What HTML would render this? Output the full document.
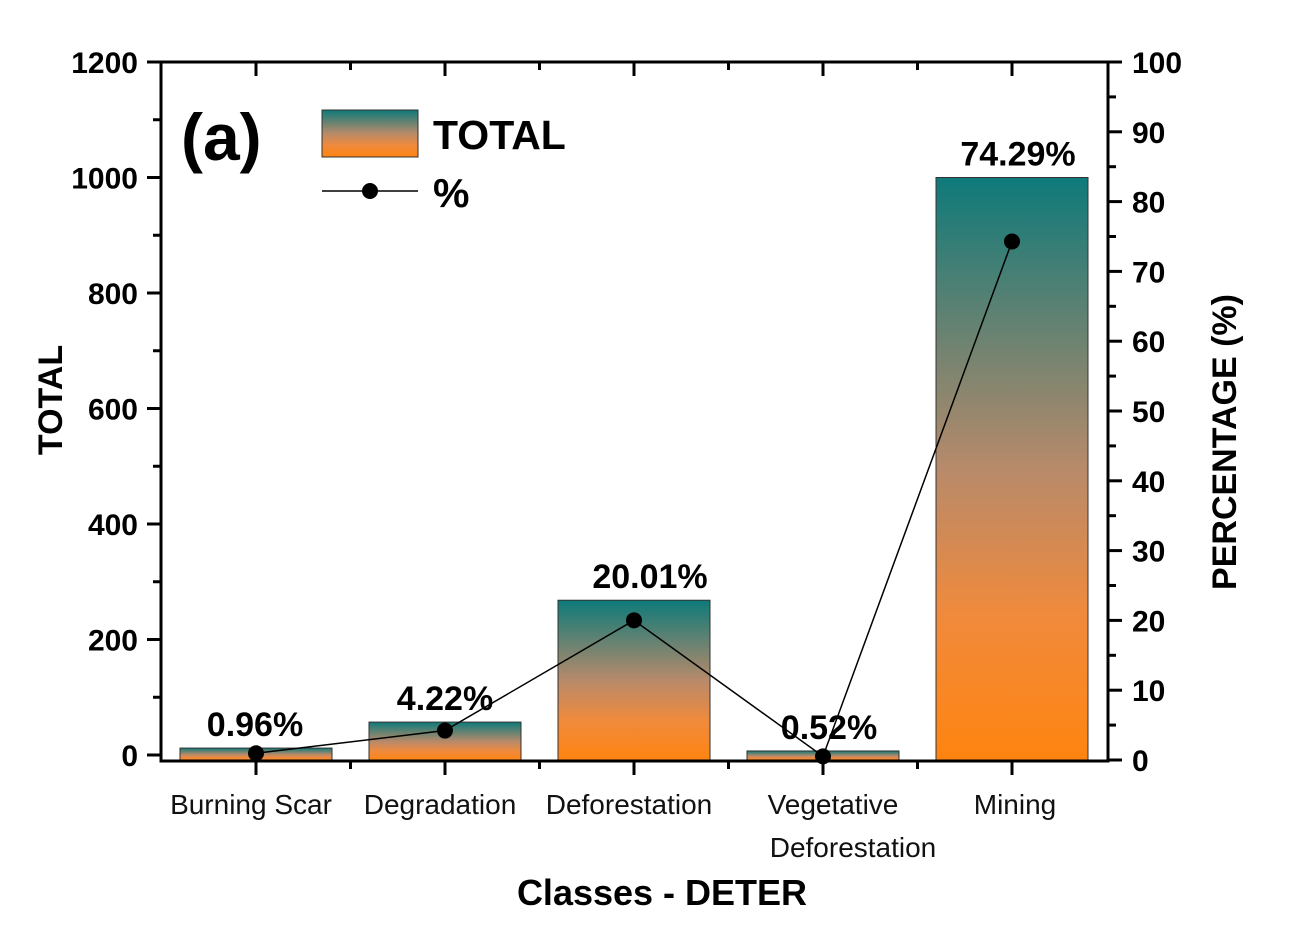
<!DOCTYPE html>
<html><head><meta charset="utf-8"><style>
body{margin:0;background:#fff;}
svg text{font-family:"Liberation Sans",sans-serif;}
</style></head><body>
<svg id="chart" width="1301" height="947" xmlns="http://www.w3.org/2000/svg">
<defs><linearGradient id="g" x1="0" y1="0" x2="0" y2="1">
<stop offset="0" stop-color="#0e7a7a"/><stop offset="0.5" stop-color="#b88a6a"/><stop offset="0.75" stop-color="#f08a3c"/><stop offset="1" stop-color="#ff8410"/></linearGradient></defs>
<g id="plot"></g>
</svg>
<script>
const categories=["Burning Scar","Degradation","Deforestation","Vegetative|Deforestation","Mining"];
const totals=[12,57,268,7,1000];
const percents=[0.96,4.22,20.01,0.52,74.29];
const pctLabels=["0.96%","4.22%","20.01%","0.52%","74.29%"];
const leftTicks=[0,200,400,600,800,1000,1200];
const rightTicks=[0,10,20,30,40,50,60,70,80,90,100];
const NS="http://www.w3.org/2000/svg";
const g=document.getElementById('plot');
const L=161,R=1108,T=62,B=761;
const yL=v=>755-v*(755-62)/1200;
const yR=v=>760-v*(760-62)/100;
const xC=i=>256+i*189;
function mk(t,a,txt){const e=document.createElementNS(NS,t);for(const k in a)e.setAttribute(k,a[k]);if(txt!==undefined)e.textContent=txt;g.appendChild(e);return e;}
totals.forEach((v,i)=>{
 const e=mk('rect',{x:xC(i)-76,y:yL(v),width:152,height:B-yL(v),fill:'url(#g)',stroke:'#333','stroke-width':1});
 
 
 const t=mk('text',{x:xC(i)+(i==0?-1:i==1?0:i==2?16:i==3?6:6),y:yL(v)-12,'font-size':34,'font-weight':'bold','text-anchor':'middle'},pctLabels[i]);
 
 
});
const pts=percents.map((p,i)=>xC(i)+','+yR(p)).join(' ');
const pl=mk('polyline',{points:pts,fill:'none',stroke:'#000','stroke-width':1.5});


percents.forEach((p,i)=>{const c=mk('circle',{cx:xC(i),cy:yR(p),r:8,fill:'#000'});
 
 });
const fr=mk('rect',{x:L,y:T,width:R-L,height:B-T,fill:'none',stroke:'#000','stroke-width':3});


leftTicks.forEach(v=>{mk('line',{x1:L,x2:147,y1:yL(v),y2:yL(v),stroke:'#000','stroke-width':3});
 if(v<1200)mk('line',{x1:L,x2:153,y1:yL(v+100),y2:yL(v+100),stroke:'#000','stroke-width':3});
 const t=mk('text',{x:138,y:yL(v)+11,'font-size':30,'font-weight':'bold','text-anchor':'end'},v);
 
 });
rightTicks.forEach(v=>{mk('line',{x1:R,x2:1122,y1:yR(v),y2:yR(v),stroke:'#000','stroke-width':3});
 if(v<100)mk('line',{x1:R,x2:1116,y1:yR(v+5),y2:yR(v+5),stroke:'#000','stroke-width':3});
 const t=mk('text',{x:1132,y:yR(v)+11,'font-size':30,'font-weight':'bold'},v);
 
 });
categories.forEach((c,i)=>{const x=xC(i);
 mk('line',{x1:x,x2:x,y1:B,y2:B+14,stroke:'#000','stroke-width':3});
 mk('line',{x1:x,x2:x,y1:T,y2:T+14,stroke:'#000','stroke-width':3});
 if(i<4){mk('line',{x1:x+94.5,x2:x+94.5,y1:B,y2:B+8,stroke:'#000','stroke-width':3});mk('line',{x1:x+94.5,x2:x+94.5,y1:T,y2:T+8,stroke:'#000','stroke-width':3});}
 const parts=c.split('|');
 parts.forEach((p,j)=>{const t=mk('text',{x:(parts.length>1?(j==0?x+10:x+30):x-5)+(i==4?8:0),y:814+j*43,'font-size':28,'text-anchor':'middle',fill:'#111'},p);
 
 });
});
let t=mk('text',{x:662,y:905,'font-size':36,'font-weight':'bold','text-anchor':'middle'},'Classes - DETER');

t=mk('text',{x:0,y:0,'font-size':34,'font-weight':'bold','text-anchor':'middle',transform:'translate(62,400) rotate(-90)'},'TOTAL');

t=mk('text',{x:0,y:0,'font-size':34,'font-weight':'bold','text-anchor':'middle',transform:'translate(1236,442) rotate(-90)'},'PERCENTAGE (%)');

t=mk('text',{x:181,y:160,'font-size':66,'font-weight':'bold'},'(a)');

let e=mk('rect',{x:322,y:110,width:96,height:47,fill:'url(#g)',stroke:'#333','stroke-width':1});

t=mk('text',{x:433,y:149,'font-size':41,'font-weight':'bold'},'TOTAL');

e=mk('line',{x1:322,x2:418,y1:191,y2:191,stroke:'#000','stroke-width':1.5});

mk('circle',{cx:370,cy:191,r:8,fill:'#000'});
t=mk('text',{x:433,y:207,'font-size':41,'font-weight':'bold'},'%');

</script>
</body></html>
